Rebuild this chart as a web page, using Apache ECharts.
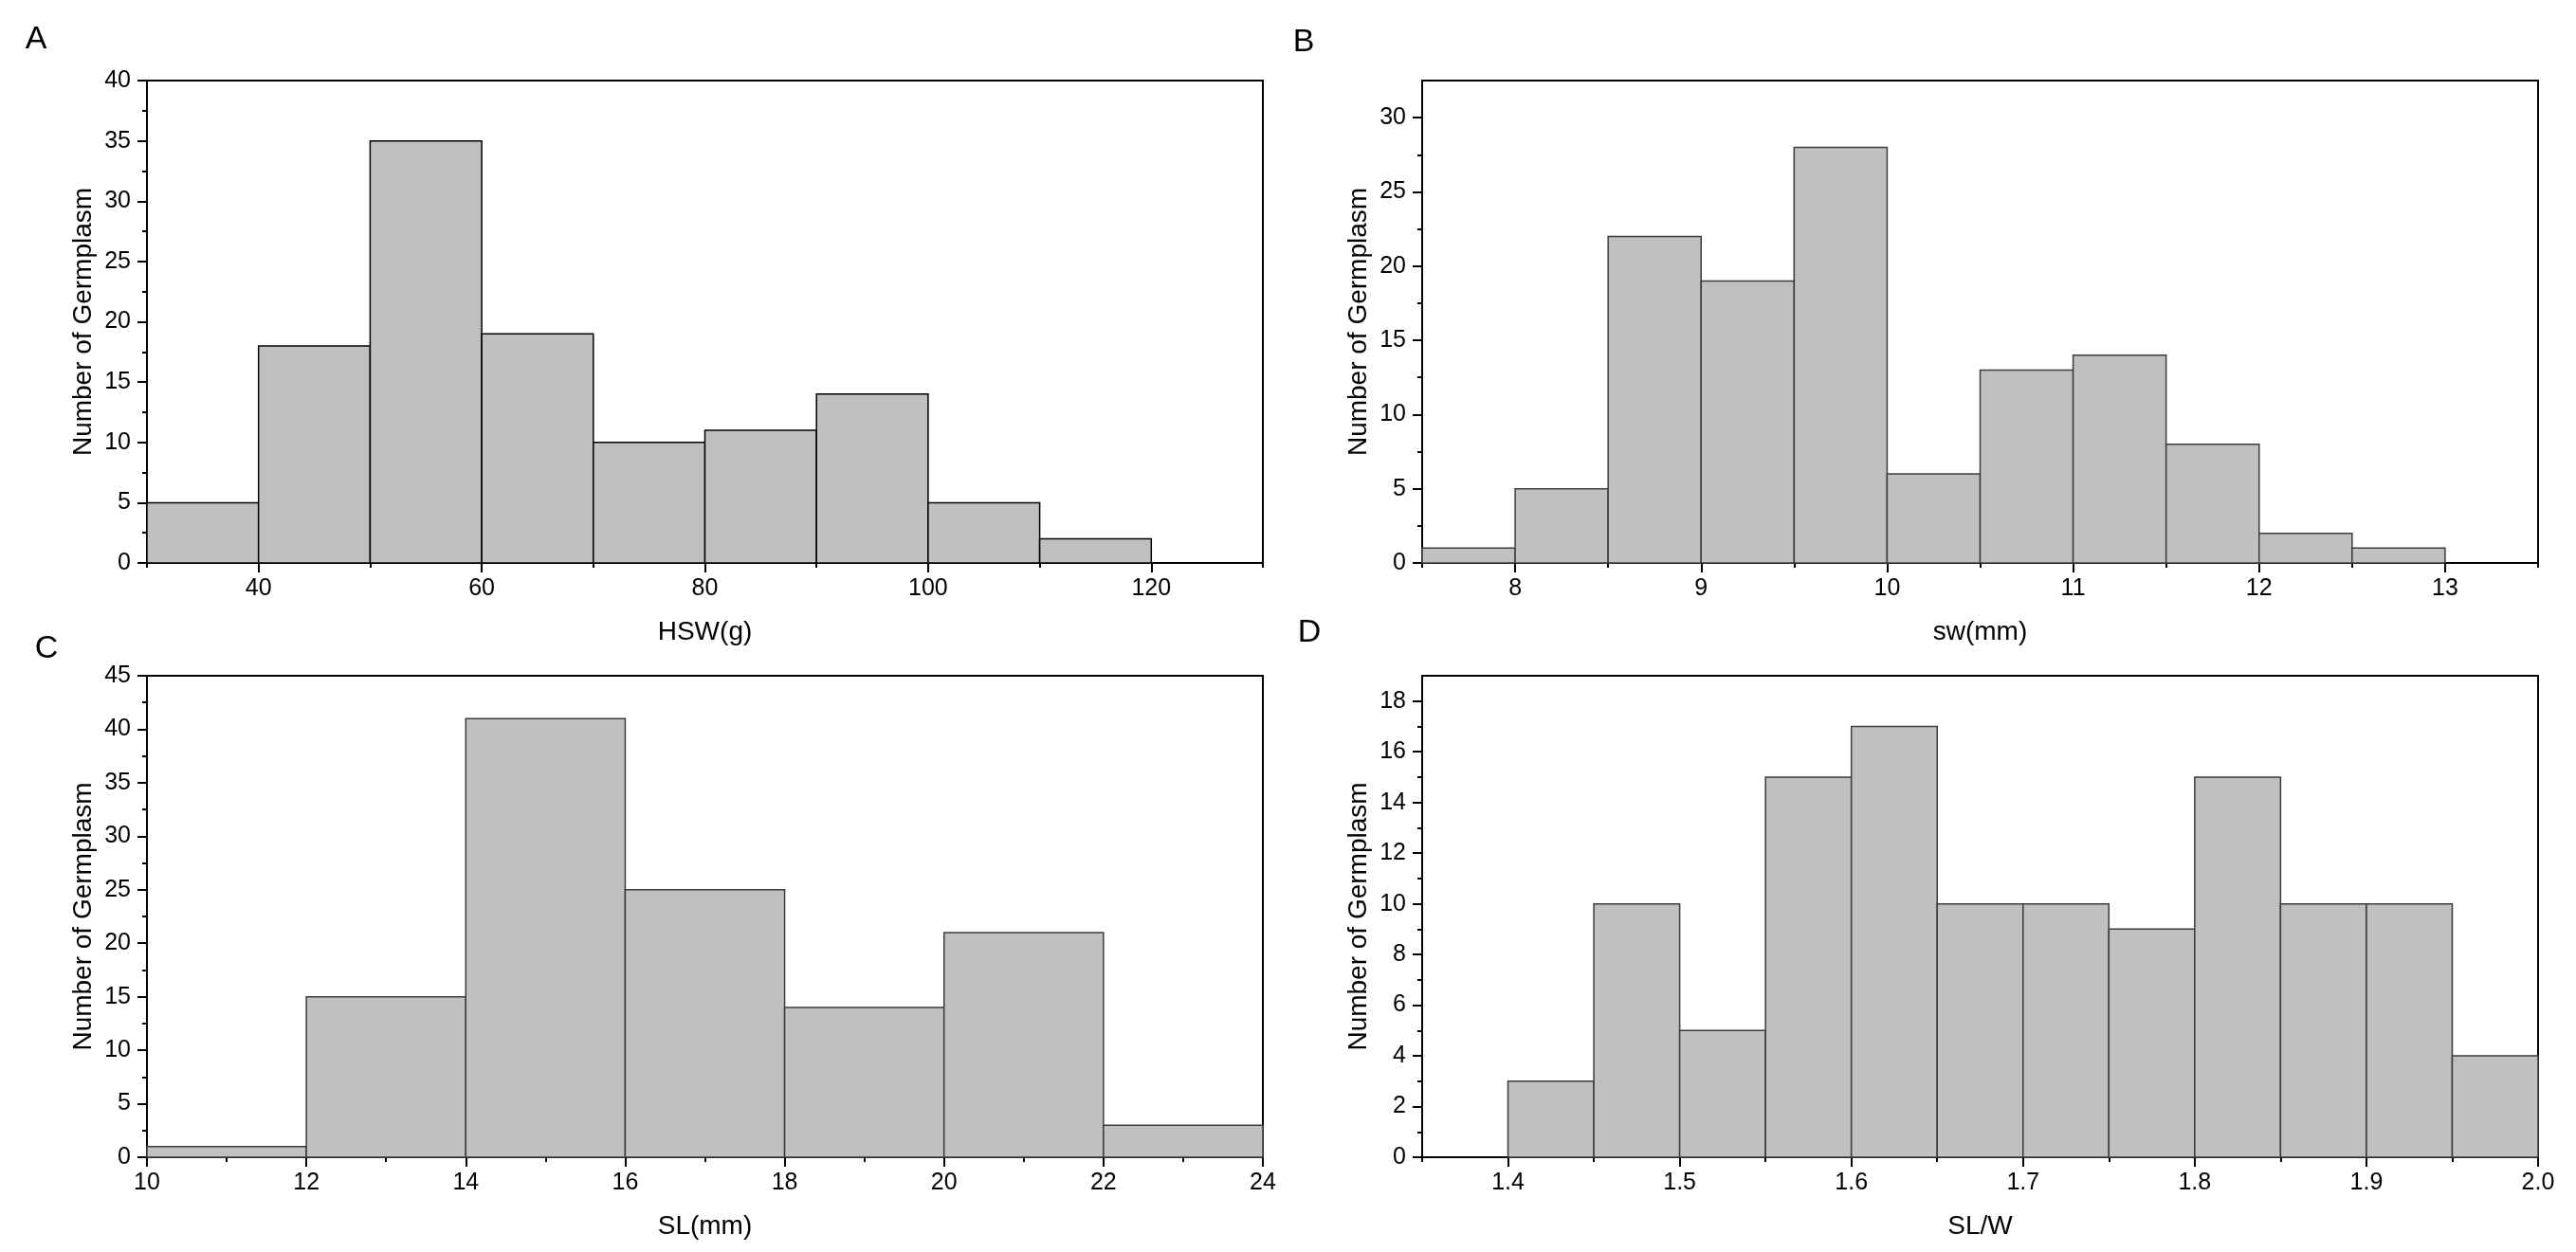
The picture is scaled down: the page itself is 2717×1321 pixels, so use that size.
<!DOCTYPE html>
<html>
<head>
<meta charset="utf-8">
<title>Germplasm trait histograms</title>
<script src="https://cdn.jsdelivr.net/npm/echarts@6.0.0/dist/echarts.min.js"></script>
<style>
  html, body { margin: 0; padding: 0; background: #fff; }
  #chart { width: 2717px; height: 1321px; }
</style>
</head>
<body>
<div id="chart"></div>
<script>
// bin lower edges and counts
var hswBins = [30, 40, 50, 60, 70, 80, 90, 100, 110];
var hswCounts = [5, 18, 35, 19, 10, 11, 14, 5, 2];
var swBins = [7.5, 8, 8.5, 9, 9.5, 10, 10.5, 11, 11.5, 12, 12.5];
var swCounts = [1, 5, 22, 19, 28, 6, 13, 14, 8, 2, 1];
var slBins = [10, 12, 14, 16, 18, 20, 22];
var slCounts = [1, 15, 41, 25, 14, 21, 3];
var slwBins = [1.40, 1.45, 1.50, 1.55, 1.60, 1.65, 1.70, 1.75, 1.80, 1.85, 1.90, 1.95];
var slwCounts = [3, 10, 5, 15, 17, 10, 10, 9, 15, 10, 10, 4];

// tick labels (major) and minor tick positions
var hswXTicks = [40, 60, 80, 100, 120];
var hswXMinor = [30, 50, 70, 90, 110, 130];
var hswYTicks = [0, 5, 10, 15, 20, 25, 30, 35, 40];
var hswYMinor = [2.5, 7.5, 12.5, 17.5, 22.5, 27.5, 32.5, 37.5];

var swXTicks = [8, 9, 10, 11, 12, 13];
var swXMinor = [7.5, 8.5, 9.5, 10.5, 11.5, 12.5, 13.5];
var swYTicks = [0, 5, 10, 15, 20, 25, 30];
var swYMinor = [2.5, 7.5, 12.5, 17.5, 22.5, 27.5];

var slXTicks = [10, 12, 14, 16, 18, 20, 22, 24];
var slXMinor = [11, 13, 15, 17, 19, 21, 23];
var slYTicks = [0, 5, 10, 15, 20, 25, 30, 35, 40, 45];
var slYMinor = [2.5, 7.5, 12.5, 17.5, 22.5, 27.5, 32.5, 37.5, 42.5];

var slwXTicks = [1.4, 1.5, 1.6, 1.7, 1.8, 1.9, 2.0];
var slwXMinor = [1.35, 1.45, 1.55, 1.65, 1.75, 1.85, 1.95];
var slwYTicks = [0, 2, 4, 6, 8, 10, 12, 14, 16, 18];
var slwYMinor = [1, 3, 5, 7, 9, 11, 13, 15, 17];

var FONT = '"Liberation Sans", Arial, Helvetica, sans-serif';
var yTitle = 'Number of Germplasm';

var panels = [
  { letter: 'A', letterAt: [38, 42], bins: hswBins, counts: hswCounts, binWidth: 10,
    xMin: 30, xMax: 130, xTicks: hswXTicks, xMinor: hswXMinor, xName: 'HSW(g)',
    yMax: 40, yTicks: hswYTicks, yMinor: hswYMinor, stroke: '#000',
    grid: { left: 155, top: 85, width: 1177, height: 509 } },
  { letter: 'B', letterAt: [1375, 45], bins: swBins, counts: swCounts, binWidth: 0.5,
    xMin: 7.5, xMax: 13.5, xTicks: swXTicks, xMinor: swXMinor, xName: 'sw(mm)',
    yMax: 32.5, yTicks: swYTicks, yMinor: swYMinor, stroke: '#3c3c3c',
    grid: { left: 1500, top: 85, width: 1177, height: 509 } },
  { letter: 'C', letterAt: [49, 685], bins: slBins, counts: slCounts, binWidth: 2,
    xMin: 10, xMax: 24, xTicks: slXTicks, xMinor: slXMinor, xName: 'SL(mm)',
    yMax: 45, yTicks: slYTicks, yMinor: slYMinor, stroke: '#3c3c3c',
    grid: { left: 155, top: 713, width: 1177, height: 508 } },
  { letter: 'D', letterAt: [1381, 668], bins: slwBins, counts: slwCounts, binWidth: 0.05,
    xMin: 1.35, xMax: 2.0, xTicks: slwXTicks, xMinor: slwXMinor, xName: 'SL/W',
    xFormat: function (v) { return v.toFixed(1); },
    yMax: 19, yTicks: slwYTicks, yMinor: slwYMinor, stroke: '#3c3c3c',
    grid: { left: 1500, top: 713, width: 1177, height: 508 } }
];

var lineStyle = { color: '#000', width: 2 };

function binRenderer(stroke) {
  return function (params, api) {
    var topLeft = api.coord([api.value(0), api.value(2)]);
    var bottomRight = api.coord([api.value(1), 0]);
    return {
      type: 'rect',
      shape: {
        x: topLeft[0], y: topLeft[1],
        width: bottomRight[0] - topLeft[0],
        height: bottomRight[1] - topLeft[1]
      },
      style: { fill: '#c0c0c0', stroke: stroke, lineWidth: 1.5 }
    };
  };
}

function mainAxis(i, dim, min, max, ticks, name, gap, format) {
  return {
    type: 'value', gridIndex: i, position: dim === 'x' ? 'bottom' : 'left',
    min: min, max: max,
    name: name, nameLocation: 'middle', nameGap: gap,
    nameTextStyle: { fontFamily: FONT, fontSize: 28, color: '#000' },
    axisLine: { show: true, onZero: false, lineStyle: lineStyle },
    axisTick: { show: true, inside: false, length: 10, customValues: ticks, lineStyle: lineStyle },
    axisLabel: { show: true, customValues: ticks, margin: dim === 'x' ? 15 : 17,
                 formatter: format || function (v) { return String(v); },
                 fontFamily: FONT, fontSize: 25, color: '#000' },
    splitLine: { show: false }
  };
}

function minorAxis(i, dim, min, max, ticks) {
  return {
    type: 'value', gridIndex: i, position: dim === 'x' ? 'bottom' : 'left',
    min: min, max: max,
    axisLine: { show: false, onZero: false },
    axisTick: { show: true, inside: false, length: 5, customValues: ticks, lineStyle: lineStyle },
    axisLabel: { show: false },
    splitLine: { show: false }
  };
}

var grids = [], xAxes = [], yAxes = [], series = [], letters = [];

panels.forEach(function (p, i) {
  grids.push(Object.assign({ show: true, borderColor: '#000', borderWidth: 2,
                             backgroundColor: 'transparent', containLabel: false }, p.grid));

  xAxes.push(mainAxis(i, 'x', p.xMin, p.xMax, p.xTicks, p.xName, 59, p.xFormat));
  xAxes.push(minorAxis(i, 'x', p.xMin, p.xMax, p.xMinor));
  yAxes.push(mainAxis(i, 'y', 0, p.yMax, p.yTicks, yTitle, 53));
  yAxes.push(minorAxis(i, 'y', 0, p.yMax, p.yMinor));

  series.push({
    type: 'custom',
    xAxisIndex: 2 * i, yAxisIndex: 2 * i,
    renderItem: binRenderer(p.stroke),
    encode: { x: [0, 1], y: 2 },
    data: p.bins.map(function (b, k) { return [b, b + p.binWidth, p.counts[k]]; }),
    silent: true
  });

  letters.push({
    type: 'text', x: p.letterAt[0], y: p.letterAt[1],
    style: { text: p.letter, fontFamily: FONT, fontSize: 34, fill: '#000',
             align: 'center', verticalAlign: 'middle' }
  });
});

var chart = echarts.init(document.getElementById('chart'));
chart.setOption({
  animation: false,
  backgroundColor: '#fff',
  grid: grids,
  xAxis: xAxes,
  yAxis: yAxes,
  series: series,
  graphic: letters
});
</script>
</body>
</html>
